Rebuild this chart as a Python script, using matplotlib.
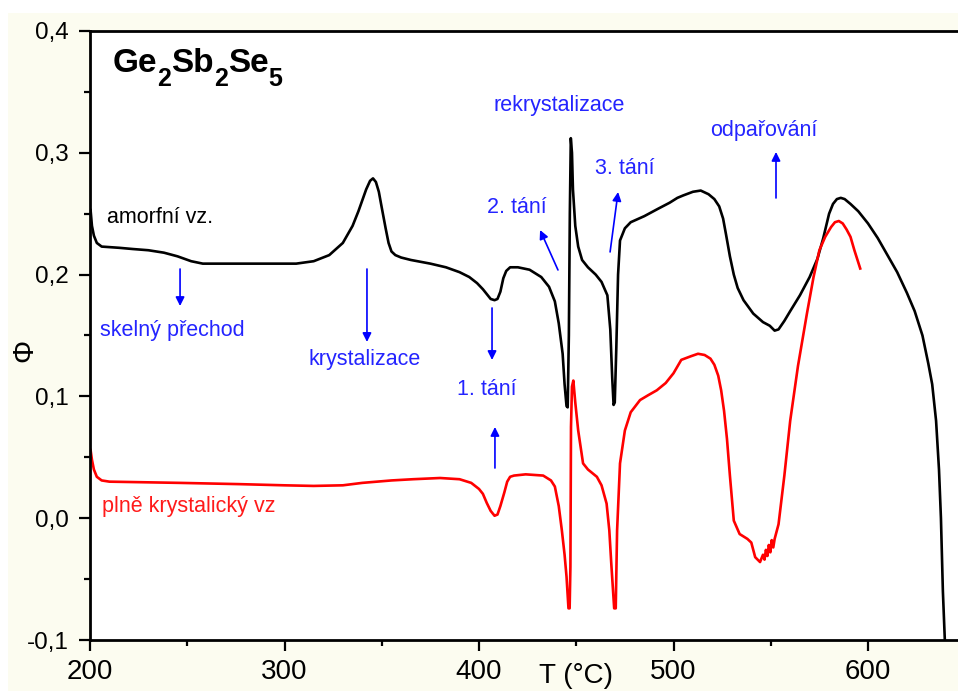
import matplotlib
matplotlib.use("Agg")
import matplotlib.pyplot as plt
from matplotlib.patches import Rectangle
from matplotlib.ticker import MultipleLocator, FuncFormatter

plt.rcParams['font.family'] = ['Liberation Sans', 'DejaVu Sans']

# amorphous sample (black)
t_amorf = [200.3, 201, 202, 203.5, 206, 215, 222, 230, 238, 245, 252, 258, 270, 290,
           306, 315, 323, 330, 335, 338, 342, 344, 345.5, 347, 348.5, 350, 352, 353.5,
           355, 357, 360, 365, 375, 383, 390, 395, 399, 402, 404, 406, 408, 409.5, 411,
           412.5, 414, 416, 420, 426, 432, 436, 439, 441, 443, 444, 445, 445.6, 446.2,
           446.7, 447.2, 447.8, 448.3, 449.5, 451, 453, 456, 460, 463, 466, 467.5,
           468.5, 469.2, 469.8, 470.6, 471.5, 472.5, 475, 478, 485, 492, 498, 502, 505,
           510, 514, 518, 521, 523.5, 525.5, 527, 529, 531, 533, 536, 541, 546, 549.5,
           552, 554, 557, 560, 565, 570, 574, 577, 580, 582, 584, 586, 588, 591, 595,
           600, 605, 610, 615, 620, 624, 628, 631, 633, 635, 636.5, 637.5, 638.5,
           639.5, 640.2]
phi_amorf = [0.253, 0.240, 0.232, 0.226, 0.223, 0.222, 0.221, 0.220, 0.218, 0.215,
             0.211, 0.209, 0.209, 0.209, 0.209, 0.211, 0.216, 0.226, 0.240, 0.252,
             0.270, 0.277, 0.279, 0.276, 0.268, 0.255, 0.238, 0.226, 0.219, 0.216,
             0.214, 0.212, 0.209, 0.206, 0.202, 0.198, 0.193, 0.188, 0.184, 0.180,
             0.179, 0.180, 0.186, 0.197, 0.203, 0.206, 0.206, 0.204, 0.198, 0.190,
             0.178, 0.160, 0.135, 0.110, 0.092, 0.091, 0.150, 0.250, 0.312, 0.300,
             0.270, 0.240, 0.223, 0.212, 0.206, 0.200, 0.194, 0.183, 0.155, 0.115,
             0.093, 0.095, 0.140, 0.200, 0.228, 0.238, 0.243, 0.248, 0.254, 0.259,
             0.263, 0.265, 0.268, 0.269, 0.266, 0.262, 0.256, 0.246, 0.233, 0.215,
             0.200, 0.189, 0.179, 0.168, 0.161, 0.158, 0.154, 0.155, 0.162, 0.170,
             0.183, 0.198, 0.213, 0.230, 0.250, 0.258, 0.262, 0.263, 0.262, 0.258,
             0.252, 0.242, 0.230, 0.216, 0.202, 0.185, 0.170, 0.150, 0.127, 0.110,
             0.080, 0.040, 0.0, -0.060, -0.100, -0.120]

# fully crystalline sample (red)
t_kryst = [200.3, 201, 202, 203.5, 206, 210, 246, 276, 300, 315, 330, 340, 355, 366,
           380, 390, 396, 400, 402, 404, 406, 408, 409.5, 411, 413, 414.5, 416, 418,
           424, 433, 437, 439, 441, 442.6, 444, 445, 446, 446.6, 447, 447.3, 447.8,
           448.5, 449.5, 451, 453.5, 456, 460.6, 463, 465.6, 467, 468, 469.5, 470.3,
           471, 472.5, 475, 478, 482.8, 487, 491.4, 496, 500, 504, 509, 512.6, 516,
           519, 521, 523, 524.5, 526, 527.5, 529, 531, 534, 538, 540, 542, 544.5, 546,
           546.8, 547.5, 548.3, 549, 549.8, 550.5, 551.3, 552, 554, 557, 560, 564,
           568.6, 572, 575, 578, 581, 583, 585, 587, 589, 591, 593, 596]
phi_kryst = [0.056, 0.048, 0.040, 0.034, 0.031, 0.030, 0.029, 0.028, 0.027, 0.0265,
             0.027, 0.029, 0.031, 0.032, 0.033, 0.032, 0.029, 0.024, 0.020, 0.0125,
             0.006, 0.002, 0.003, 0.010, 0.021, 0.030, 0.034, 0.035, 0.036, 0.035,
             0.031, 0.026, 0.010, -0.010, -0.030, -0.048, -0.074, -0.074, -0.040,
             0.075, 0.108, 0.113, 0.095, 0.072, 0.045, 0.040, 0.034, 0.027, 0.012,
             -0.010, -0.037, -0.074, -0.074, -0.010, 0.045, 0.072, 0.087, 0.097,
             0.101, 0.105, 0.111, 0.119, 0.130, 0.133, 0.135, 0.134, 0.131, 0.126,
             0.117, 0.105, 0.088, 0.065, 0.035, -0.002, -0.013, -0.017, -0.020,
             -0.032, -0.036, -0.030, -0.034, -0.026, -0.031, -0.022, -0.028, -0.018,
             -0.024, -0.017, -0.005, 0.035, 0.080, 0.125, 0.168, 0.198, 0.220, 0.231,
             0.239, 0.243, 0.244, 0.242, 0.237, 0.231, 0.220, 0.205]

# labels: text, x, y, colour
popisky = [("amorfní vz.", 208.7, 0.2465, "black"),
           ("skelný přechod", 205.1, 0.1545, "#2424ff"),
           ("krystalizace", 312.1, 0.130, "#2424ff"),
           ("1. tání", 388.7, 0.1053, "#2424ff"),
           ("2. tání", 404.1, 0.2547, "#2424ff"),
           ("rekrystalizace", 407.2, 0.3392, "#2424ff"),
           ("3. tání", 459.6, 0.2875, "#2424ff"),
           ("odpařování", 518.8, 0.3187, "#2424ff"),
           ("plně krystalický vz", 206.2, 0.010, "#ff1a1a")]

# arrows: (x tail, y tail) -> (x head, y head)
sipky = [((246.3, 0.2046), (246.3, 0.1742)),
         ((342.4, 0.2046), (342.4, 0.1447)),
         ((406.7, 0.1726), (406.7, 0.1299)),
         ((408.2, 0.0412), (408.2, 0.0749)),
         ((440.6, 0.2038), (431.4, 0.2366)),
         ((467.4, 0.2186), (471.5, 0.2678)),
         ((552.7, 0.2629), (552.7, 0.3007))]

# title pieces: text, subscript?
nazev = [("Ge", False), ("2", True), ("Sb", False), ("2", True), ("Se", False), ("5", True)]

W, H = 958, 691
fig = plt.figure(figsize=(W / 100, H / 100), dpi=100, facecolor="white")
fig.patches.append(Rectangle((8 / W, 0), 1, 1 - 13 / H, transform=fig.transFigure,
                             facecolor="#fcfcf0", edgecolor="none", zorder=-10))

ax = fig.add_axes([90 / W, 1 - 640 / H, 868 / W, 609 / H])
ax.set_facecolor("white")

ax.plot(t_amorf, phi_amorf, color="black", lw=1.9)
ax.plot(t_kryst, phi_kryst, color="#ff0000", lw=1.9)

for txt, x, y, c in popisky:
    ax.text(x, y, txt, color=c, fontsize=15.5, ha="left", va="center")

for (x0, y0), (x1, y1) in sipky:
    ax.annotate("", xy=(x1, y1), xytext=(x0, y0),
                arrowprops=dict(arrowstyle="-|>", color="#0000ff", lw=1.2,
                                mutation_scale=13, shrinkA=0, shrinkB=0))

# title built piece by piece so subscripts sit low like in the original
renderer = fig.canvas.get_renderer()
xpos = 113
for kus, sub in nazev:
    if sub:
        t = fig.text(xpos / W, 1 - 86 / H, kus, fontsize=18, fontweight="bold",
                     ha="left", va="baseline")
    else:
        t = fig.text(xpos / W, 1 - 72 / H, kus, fontsize=24, fontweight="bold",
                     ha="left", va="baseline")
    xpos = t.get_window_extent(renderer).x1

ax.set_xlim(200, 200 + 868 / 1.945)
ax.set_ylim(-0.1, 0.4)
ax.xaxis.set_major_locator(MultipleLocator(100))
ax.xaxis.set_minor_locator(MultipleLocator(50))
ax.yaxis.set_major_locator(MultipleLocator(0.1))
ax.yaxis.set_minor_locator(MultipleLocator(0.05))
ax.yaxis.set_major_formatter(FuncFormatter(lambda v, p: f"{round(v, 2):.1f}".replace(".", ",")))
ax.xaxis.set_major_formatter(FuncFormatter(lambda v, p: f"{v:.0f}"))

ax.tick_params(which="both", direction="out", width=1.6, color="black",
               top=False, right=False)
ax.tick_params(which="major", length=8)
ax.tick_params(which="minor", length=4)
ax.tick_params(axis="y", which="major", labelsize=17.5, pad=7)
ax.tick_params(axis="x", which="major", labelsize=20, pad=6)

for s in ["left", "bottom", "top"]:
    ax.spines[s].set_linewidth(2)
ax.spines["right"].set_visible(False)

fig.text(576 / W, 1 - 676 / H, "T (°C)", fontsize=20, ha="center", va="center")
fig.text(24 / W, 1 - 350 / H, "Φ", fontsize=21, ha="center", va="center", rotation=90)

fig.savefig("out.png", dpi=100, facecolor=fig.get_facecolor())
